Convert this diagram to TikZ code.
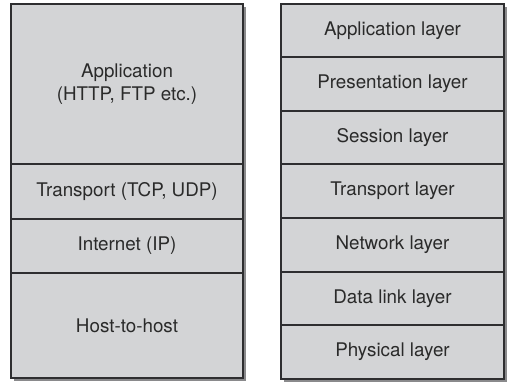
\documentclass[tikz,border=0pt]{standalone}
\usepackage{fontspec}
\setmainfont{TeX Gyre Heros}
\definecolor{cellfill}{HTML}{D3D4D6}
\definecolor{cellline}{HTML}{2E2E30}
\definecolor{shadowc}{HTML}{8A8A8C}
\definecolor{textc}{HTML}{2A2A2A}
\begin{document}
\begin{tikzpicture}[x=1pt,y=-1pt,
  cell/.style={draw=cellline, line width=1.2pt, fill=cellfill, rectangle, inner sep=0pt,
    text=textc, align=center, font=\fontsize{18.8}{23}\selectfont}]
\useasboundingbox[fill=white] (0,0) rectangle (507,381);
% shadows
\fill[shadowc] (14,7) rectangle (246,381);
\fill[shadowc] (284,7) rectangle (507,382);
% left stack (TCP/IP)
\node[cell, minimum width=232pt, minimum height=160pt] (app) at (127,84) {Application\\(HTTP, FTP etc.)};
\node[cell, minimum width=232pt, minimum height=55pt] (trans) at (127,191.5) {Transport (TCP, UDP)};
\node[cell, minimum width=232pt, minimum height=54pt] (inet) at (127,246) {Internet (IP)};
\node[cell, minimum width=232pt, minimum height=105pt] (host) at (127,325.5) {Host-to-host};
% right stack (OSI)
\node[cell, minimum width=223pt, minimum height=53pt] (l7) at (392.5,30.5) {Application layer};
\node[cell, minimum width=223pt, minimum height=54pt] (l6) at (392.5,84) {Presentation layer};
\node[cell, minimum width=223pt, minimum height=53pt] (l5) at (392.5,137.5) {Session layer};
\node[cell, minimum width=223pt, minimum height=54pt] (l4) at (392.5,191) {Transport layer};
\node[cell, minimum width=223pt, minimum height=54pt] (l3) at (392.5,245) {Network layer};
\node[cell, minimum width=223pt, minimum height=53pt] (l2) at (392.5,298.5) {Data link layer};
\node[cell, minimum width=223pt, minimum height=54pt] (l1) at (392.5,352) {Physical layer};
\end{tikzpicture}
\end{document}
